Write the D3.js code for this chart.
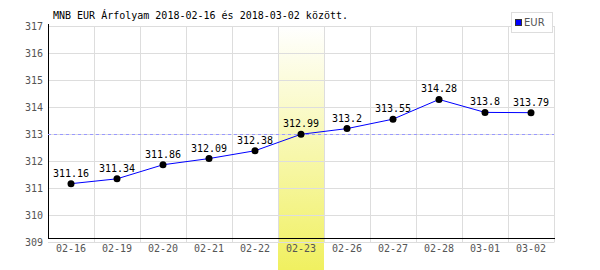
<!DOCTYPE html>
<html><head><meta charset="utf-8">
<script src="https://cdn.jsdelivr.net/npm/d3@7"></script>
<style>body{margin:0;background:#fff}svg{display:block}</style>
</head><body>
<svg id="c" width="600" height="270"></svg>
<script>
const categories = ["02-16","02-19","02-20","02-21","02-22","02-23","02-26","02-27","02-28","03-01","03-02"];
const values = [311.16,311.34,311.86,312.09,312.38,312.99,313.2,313.55,314.28,313.8,313.79];
const yTicks = [309,310,311,312,313,314,315,316,317];
const highlight = "02-23";
const refValue = 313;
const title = "MNB EUR Árfolyam 2018-02-16 és 2018-03-02 között.";
const seriesName = "EUR";

const svg = d3.select("#c");
const mono = "'DejaVu Sans Mono', monospace";
const x = d3.scaleBand().domain(categories).range([48, 554]);
const y = d3.scaleLinear().domain([309, 317]).range([242, 26]);

const defs = svg.append("defs");
const g = defs.append("linearGradient").attr("id","hl").attr("x1",0).attr("y1",0).attr("x2",0).attr("y2",1);
g.append("stop").attr("offset","0%").attr("stop-color","#ffffff");
g.append("stop").attr("offset","100%").attr("stop-color","#f0f060");

// highlight band
svg.append("rect").attr("x", x(highlight)).attr("y", y(317)).attr("width", x.bandwidth())
  .attr("height", 270 - y(317)).attr("fill", "url(#hl)");

// horizontal grid
svg.append("g").selectAll("line").data(yTicks).join("line")
  .attr("x1", 48).attr("x2", 554.5).attr("y1", d => Math.round(y(d)) + 0.5).attr("y2", d => Math.round(y(d)) + 0.5)
  .attr("stroke", "#dddddd");
// vertical grid
svg.append("g").selectAll("line").data(categories).join("line")
  .attr("x1", d => Math.round(x(d) + x.bandwidth()) + 0.5).attr("x2", d => Math.round(x(d) + x.bandwidth()) + 0.5)
  .attr("y1", y(317)).attr("y2", 242)
  .attr("stroke", "#dddddd");

// y tick labels
svg.append("g").selectAll("text").data(yTicks).join("text")
  .attr("x", 43).attr("y", d => y(d)).attr("dy", "0.35em").attr("text-anchor", "end")
  .attr("font-family", mono).attr("font-size", 10).attr("fill", "#555").text(d => d);

// axes
svg.append("line").attr("x1", 48.5).attr("x2", 48.5).attr("y1", 24).attr("y2", 238.5).attr("stroke", "#000");
svg.append("line").attr("x1", 48).attr("x2", 555).attr("y1", 238.5).attr("y2", 238.5).attr("stroke", "#000");

// x labels
svg.append("g").selectAll("text").data(categories).join("text")
  .attr("x", d => x(d) + x.bandwidth() / 2).attr("y", 252).attr("text-anchor", "middle")
  .attr("font-family", mono).attr("font-size", 10).attr("fill", "#555").text(d => d);

// reference line
svg.append("line").attr("x1", 48).attr("x2", 554).attr("y1", Math.round(y(refValue)) + 0.5).attr("y2", Math.round(y(refValue)) + 0.5)
  .attr("stroke", "#9999ff").attr("stroke-dasharray", "3,3");

// series line
const line = d3.line().x((d, i) => x(categories[i]) + x.bandwidth() / 2).y(d => y(d));
svg.append("path").datum(values).attr("d", line).attr("fill", "none").attr("stroke", "#0000ff").attr("stroke-width", 1);

// points
svg.append("g").selectAll("circle").data(values).join("circle")
  .attr("cx", (d, i) => x(categories[i]) + x.bandwidth() / 2).attr("cy", d => y(d)).attr("r", 3.5).attr("fill", "#000");

// point labels
svg.append("g").selectAll("text").data(values).join("text")
  .attr("x", (d, i) => x(categories[i]) + x.bandwidth() / 2).attr("y", d => y(d) - 7).attr("text-anchor", "middle")
  .attr("font-family", mono).attr("font-size", 10).attr("fill", "#000").text(d => d);

// title
svg.append("text").attr("x", 53).attr("y", 19).attr("font-family", mono).attr("font-size", 10).attr("fill", "#000").text(title);

// legend
svg.append("rect").attr("x", 511.5).attr("y", 12.5).attr("width", 41).attr("height", 20).attr("fill", "#fff").attr("stroke", "#dddddd");
svg.append("rect").attr("x", 515.5).attr("y", 19.5).attr("width", 6).attr("height", 6).attr("fill", "#0000ff").attr("stroke", "#333");
svg.append("text").attr("x", 524).attr("y", 26).attr("font-family", "'DejaVu Sans', sans-serif").attr("font-size", 10).attr("fill", "#555").text(seriesName);
</script>
</body></html>
